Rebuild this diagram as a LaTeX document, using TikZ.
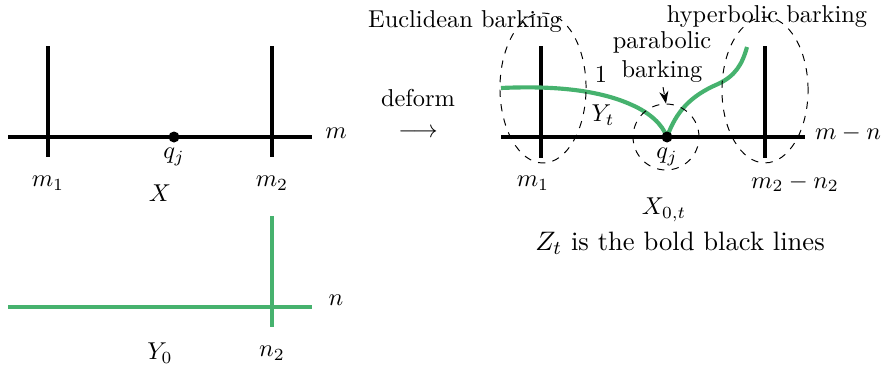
\documentclass[tikz,border=0pt]{standalone}
\usepackage{amsmath}
\usetikzlibrary{positioning, arrows.meta, shapes.geometric}
\definecolor{ygreen}{RGB}{70,178,110}

\begin{document}
\begin{tikzpicture}[
        x=0.0144cm, y=-0.0144cm,
        zline/.style={line width=1.7pt, black},
        yline/.style={line width=1.7pt, ygreen},
        barkzone/.style={draw, dashed, line width=0.4pt}
    ]
        \useasboundingbox (0,0) rectangle (889,372);

        % X
        \coordinate (xl) at (8,137);
        \coordinate (xr) at (312,137);
        \draw[zline] (xl) -- (xr);
        \draw[zline] (48,46) coordinate (xa) -- (48,157) coordinate (xb);
        \draw[zline] (272,46) coordinate (xc) -- (272,157) coordinate (xd);
        \fill (174,137) circle (5.5) coordinate (xq);
        \node (xqj) at (174,157) {$q_j$};
        \node (xm1) at (48,183) {$m_1$};
        \node (xm2) at (272,183) {$m_2$};
        \node (xname) at (160,193) {$X$};
        \node (xm) at (336,133) {$m$};

        % Y_0
        \draw[yline] (8,307) coordinate (yl) -- (312,307) coordinate (yr);
        \draw[yline] (272,216) coordinate (ya) -- (272,327) coordinate (yb);
        \node (yn) at (336,300) {$n$};
        \node (yname) at (160,353) {$Y_0$};
        \node (yn2) at (272,353) {$n_2$};

        \node (deform) at (418,98) {deform};
        \node (arrow) at (418,133) {$\longrightarrow$};

        % X_{0,t}
        \draw[zline] (501,137) coordinate (zl) -- (805,137) coordinate (zr);
        \draw[zline] (541,46) coordinate (za) -- (541,158) coordinate (zb);
        \draw[zline] (765,46) coordinate (zc) -- (765,158) coordinate (zd);
        \draw[yline] (501,88) .. controls (545,86) and (595,88) .. (632,105)
            .. controls (650,113) and (662,124) .. (667,137);
        \draw[yline] (667,137) .. controls (676,112) and (690,96) .. (718,84)
            .. controls (735,76) and (742,65) .. (747,47);
        \fill (667,137) circle (5.5) coordinate (zq);

        \node[barkzone, ellipse, minimum width=1.24cm, minimum height=2.16cm] (euc) at (543,88) {};
        \node[barkzone, circle, minimum size=0.95cm] (par) at (666,137) {};
        \node[barkzone, ellipse, minimum width=1.24cm, minimum height=2.1cm] (hyp) at (765,90) {};

        \node (euctext) at (465,22) {Euclidean barking};
        \node (hyptext) at (767,17) {hyperbolic barking};
        \node[align=center, inner sep=0pt] (partext) at (662,57) {parabolic\\barking};
        \draw[-{Stealth[length=5pt]}, dashed] (partext.south) ++(1,4) coordinate (pa) -- (par.north);

        \node (one) at (601,75) {$1$};
        \node (yt) at (603,115) {$Y_t$};
        \node (zqj) at (667,157) {$q_j$};
        \node (zm1) at (533,183) {$m_1$};
        \node (zm2) at (795,183) {$m_2-n_2$};
        \node (zm) at (848,133) {$m-n$};
        \node (zname) at (664,210) {$X_{0,t}$};
        \node[font=\fontsize{10.9}{13}\selectfont] (ztext) at (680,243) {$Z_t$ is the bold black lines};

    \end{tikzpicture}
\end{document}
